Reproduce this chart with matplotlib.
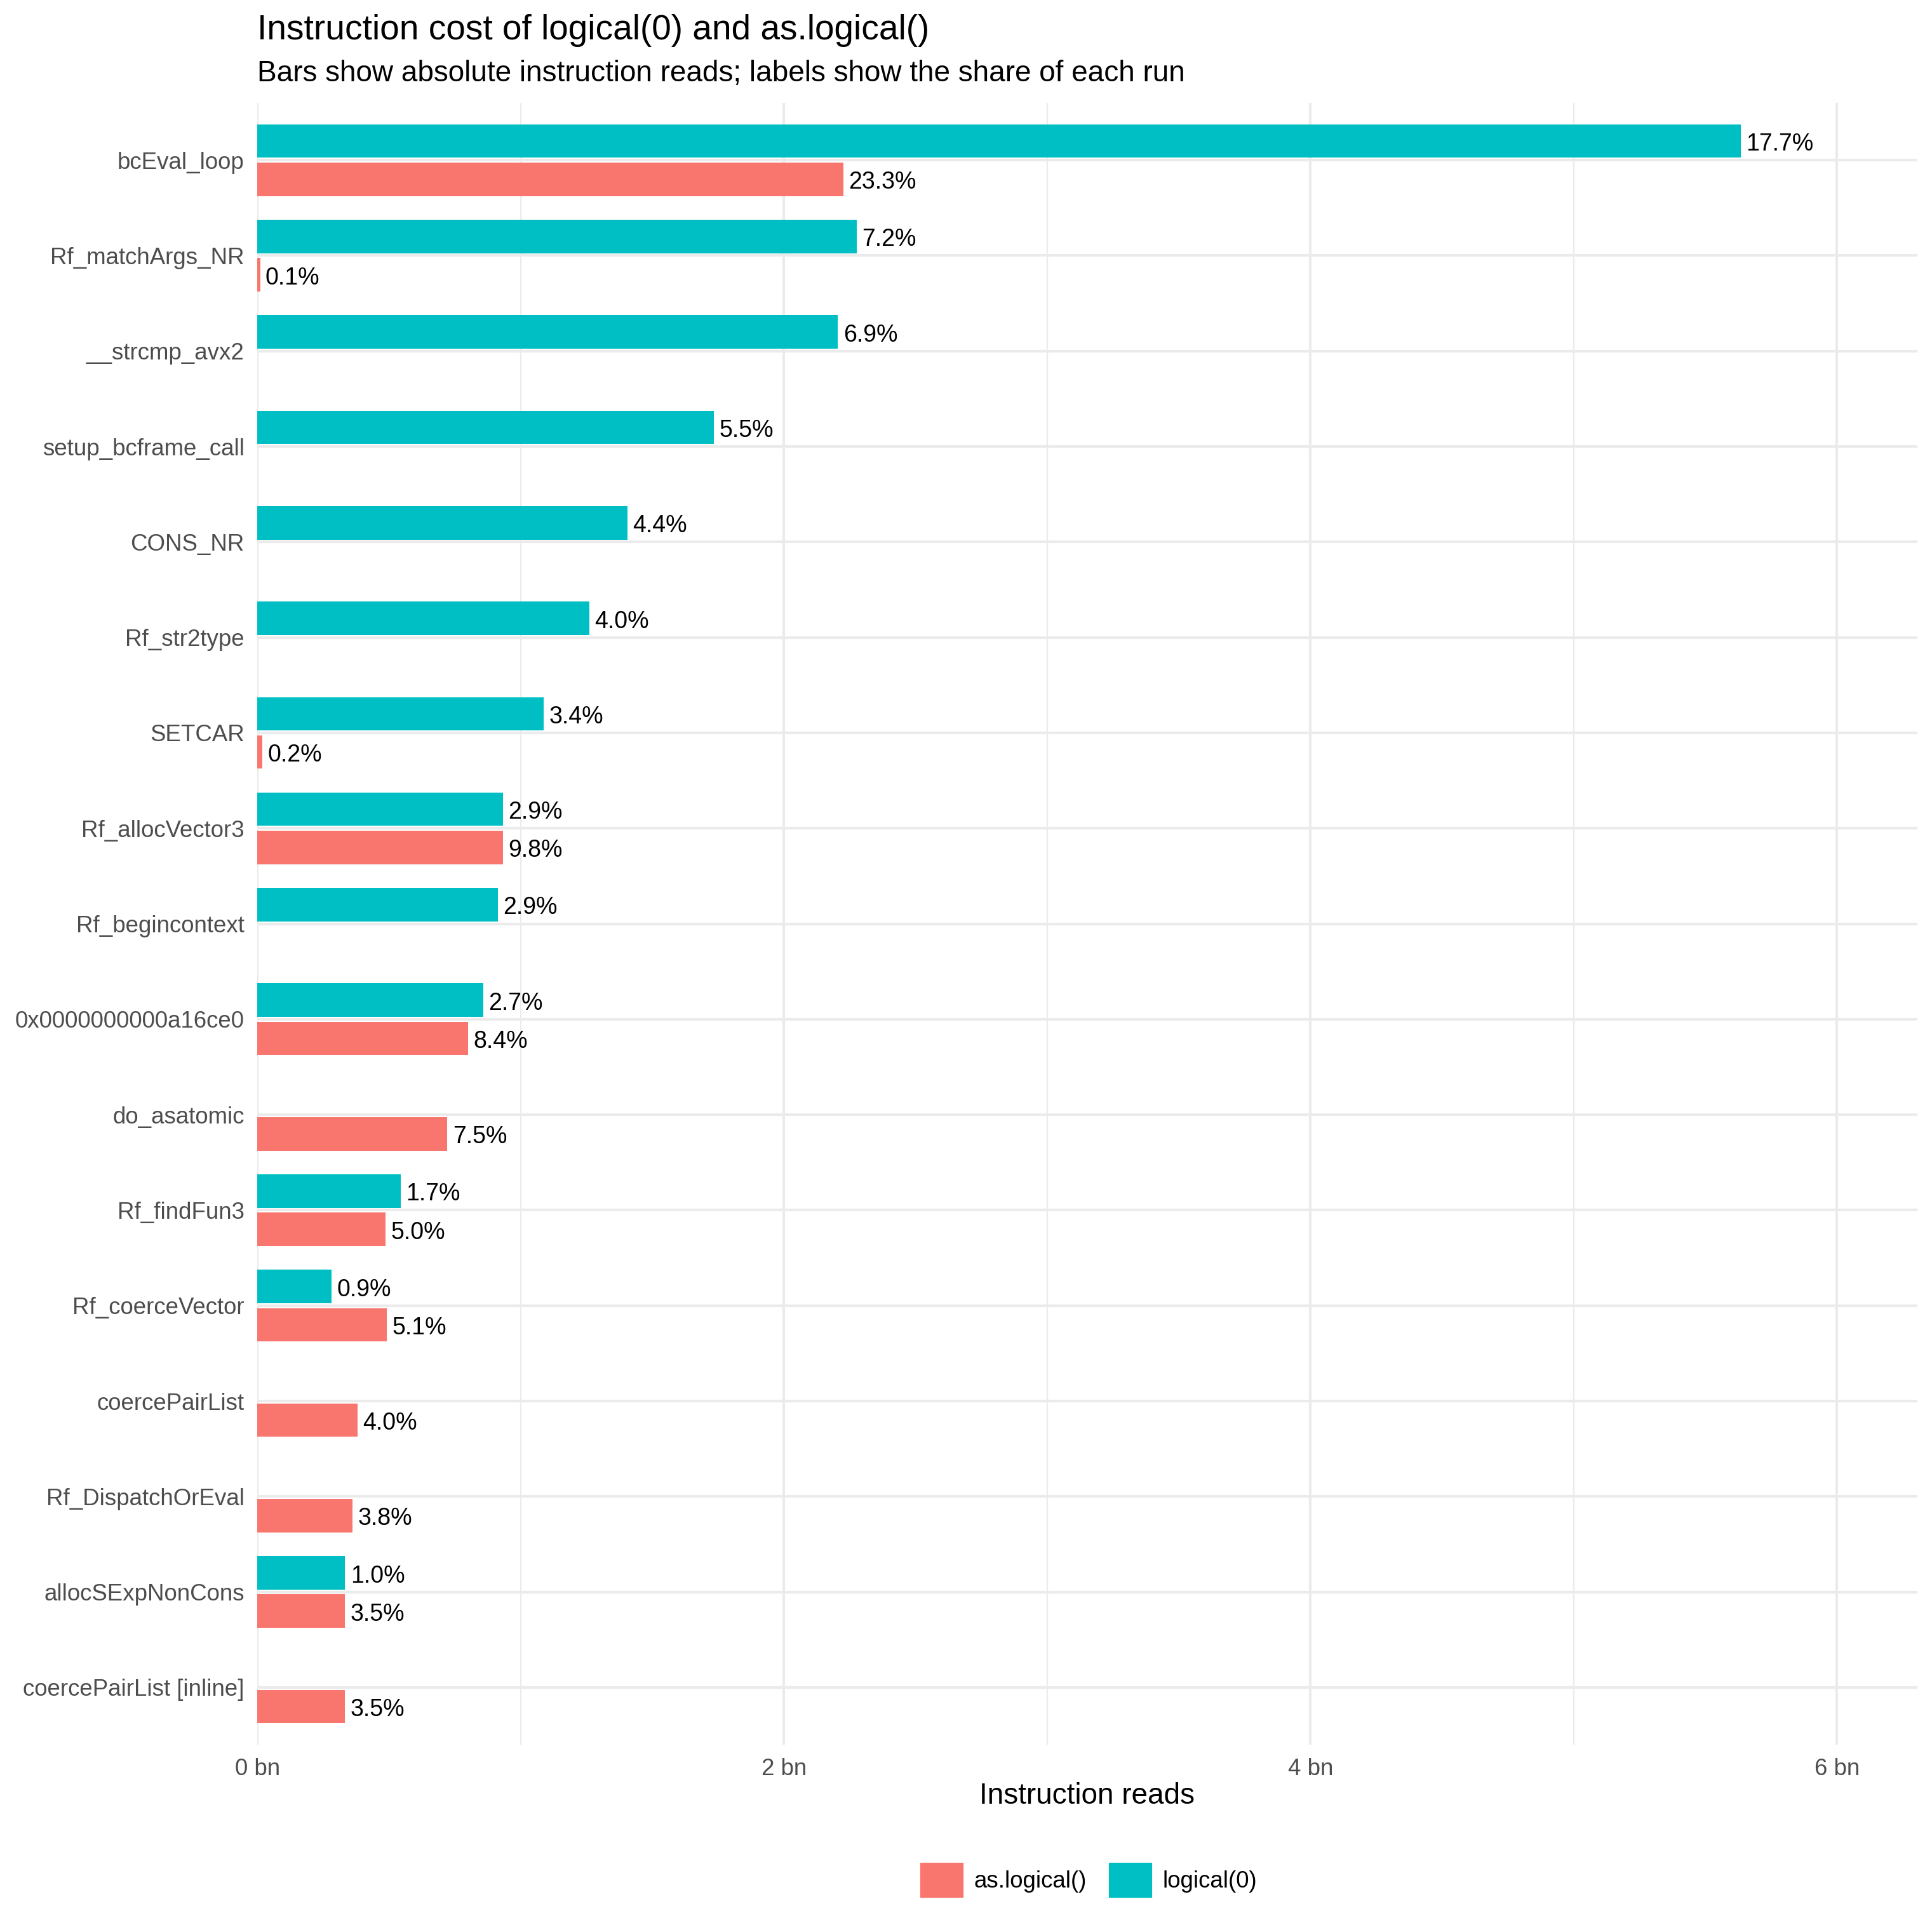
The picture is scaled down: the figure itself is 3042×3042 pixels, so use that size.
import numpy as np
import matplotlib.pyplot as plt
from matplotlib.patches import Patch

plt.rcParams['font.family'] = ['Liberation Sans', 'DejaVu Sans']

# data (instruction reads, billions)
functions = ['bcEval_loop', 'Rf_matchArgs_NR', '__strcmp_avx2', 'setup_bcframe_call',
             'CONS_NR', 'Rf_str2type', 'SETCAR', 'Rf_allocVector3', 'Rf_begincontext',
             '0x0000000000a16ce0', 'do_asatomic', 'Rf_findFun3', 'Rf_coerceVector',
             'coercePairList', 'Rf_DispatchOrEval', 'allocSExpNonCons',
             'coercePairList [inline]']
logical0 = [5.635, 2.277, 2.205, 1.733, 1.405, 1.26, 1.087, 0.932, 0.913, 0.857,
            np.nan, 0.543, 0.281, np.nan, np.nan, 0.333, np.nan]
logical0_pct = ['17.7%', '7.2%', '6.9%', '5.5%', '4.4%', '4.0%', '3.4%', '2.9%', '2.9%',
                '2.7%', '', '1.7%', '0.9%', '', '', '1.0%', '']
as_logical = [2.225, 0.01, np.nan, np.nan, np.nan, np.nan, 0.019, 0.932, np.nan, 0.801,
              0.721, 0.487, 0.492, 0.379, 0.361, 0.333, 0.333]
as_logical_pct = ['23.3%', '0.1%', '', '', '', '', '0.2%', '9.8%', '', '8.4%', '7.5%',
                  '5.0%', '5.1%', '4.0%', '3.8%', '3.5%', '3.5%']

red = '#F8766D'
teal = '#00BFC4'
grid = '#EBEBEB'

fig = plt.figure(figsize=(10.14, 10.14), dpi=300)
ax = fig.add_axes([209/1568, 1 - 1416/1568, (1556 - 209)/1568, (1416 - 83.5)/1568])

y = np.arange(len(functions))
h = 0.35
ax.barh(y - 0.2, logical0, height=h, color=teal, zorder=3)
ax.barh(y + 0.2, as_logical, height=h, color=red, zorder=3)

# percentage labels just right of each bar
for yi, v, lab in zip(y, logical0, logical0_pct):
    if lab:
        ax.annotate(lab, (v, yi - 0.2), xytext=(2, -1.2), textcoords='offset points',
                    ha='left', va='center', fontsize=9, color='black', zorder=4)
for yi, v, lab in zip(y, as_logical, as_logical_pct):
    if lab:
        ax.annotate(lab, (v, yi + 0.2), xytext=(2, -1.2), textcoords='offset points',
                    ha='left', va='center', fontsize=9, color='black', zorder=4)

ax.set_xlim(0, 6.305)
ax.set_ylim(len(functions) - 0.4, -0.6)
ax.set_yticks(y)
ax.set_yticklabels(functions)
ax.set_xticks([0, 2, 4, 6])
ax.set_xticklabels(['0 bn', '2 bn', '4 bn', '6 bn'])
ax.set_xticks([1, 3, 5], minor=True)

ax.tick_params(axis='both', length=0, labelsize=8.8, labelcolor='#4D4D4D', pad=5)
ax.tick_params(axis='x', which='minor', length=0)
ax.grid(axis='x', which='major', color=grid, lw=1.0, zorder=0)
ax.grid(axis='x', which='minor', color=grid, lw=0.55, zorder=0)
ax.grid(axis='y', which='major', color=grid, lw=1.0, zorder=0)
for s in ax.spines.values():
    s.set_visible(False)

fig.text(209/1568, 1 - 62/3042, 'Instruction cost of logical(0) and as.logical()',
         fontsize=13.2, ha='left', va='baseline')
fig.text(209/1568, 1 - 128/3042,
         'Bars show absolute instruction reads; labels show the share of each run',
         fontsize=11, ha='left', va='baseline')
fig.text(882/1568, 1 - 2840/3042, 'Instruction reads', fontsize=11,
         ha='center', va='baseline')

handles = [Patch(color=red, label='as.logical()'), Patch(color=teal, label='logical(0)')]
fig.legend(handles=handles, loc='center', bbox_to_anchor=(884/1568, 1 - 1526/1568),
           ncol=2, frameon=False, fontsize=8.8, handlelength=1.75, handleheight=1.75,
           handletextpad=0.5, columnspacing=1.0)

fig.savefig('out.png', dpi=300, facecolor='white')
